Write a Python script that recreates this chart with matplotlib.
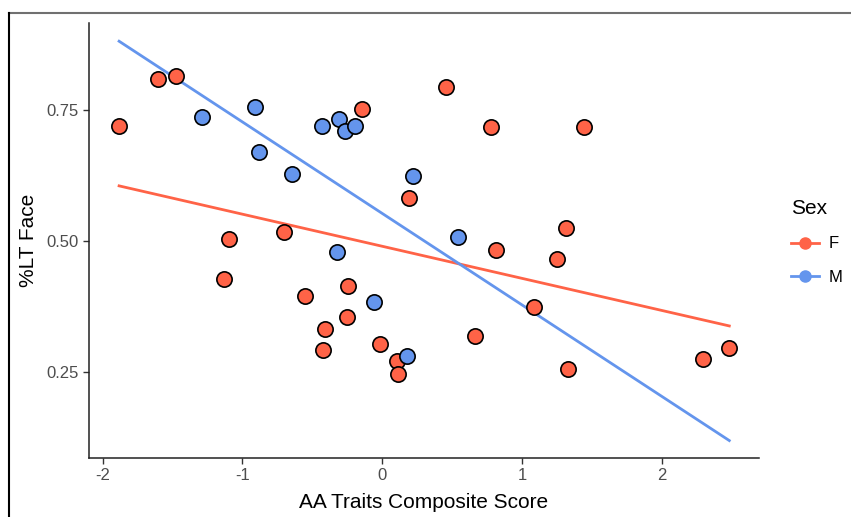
import matplotlib.pyplot as plt
import matplotlib.lines as mlines
import numpy as np

plt.rcParams['font.family'] = ['Liberation Sans', 'DejaVu Sans']
plt.rcParams['axes.unicode_minus'] = False

# female points
xf = [-1.882, -1.601, -1.477, -1.094, -1.129, -0.700, -0.550, -0.147, -0.247, -0.254,
      -0.407, -0.422, -0.016, 0.193, 0.103, 0.112, 0.453, 0.775, 0.813, 0.665,
      1.082, 1.247, 1.313, 1.327, 1.444, 2.290, 2.480]
yf = [0.720, 0.809, 0.814, 0.503, 0.427, 0.516, 0.395, 0.752, 0.414, 0.355,
      0.332, 0.291, 0.302, 0.581, 0.270, 0.246, 0.793, 0.718, 0.483, 0.318,
      0.374, 0.465, 0.525, 0.256, 0.718, 0.275, 0.296]
# male points
xm = [-1.291, -0.910, -0.879, -0.645, -0.429, -0.307, -0.267, -0.195, 0.222, 0.543,
      -0.326, -0.057, 0.174]
ym = [0.736, 0.755, 0.669, 0.627, 0.720, 0.732, 0.709, 0.720, 0.624, 0.508,
      0.478, 0.383, 0.280]

col_f = 'tomato'
col_m = 'cornflowerblue'

fig = plt.figure(figsize=(8.51, 5.17), dpi=100)
ax = fig.add_axes([0.1046, 0.1141, 0.7874, 0.8414])

# regression lines over full x range
xall = np.array(xf + xm)
xr = np.array([xall.min(), xall.max()])
for xs, ys, c in [(xf, yf, col_f), (xm, ym, col_m)]:
    b, a = np.polyfit(xs, ys, 1)
    ax.plot(xr, a + b * xr, color=c, lw=2, zorder=2)

ax.plot(xf, yf, 'o', ms=11, mfc=col_f, mec='black', mew=1.2, ls='none', zorder=3)
ax.plot(xm, ym, 'o', ms=11, mfc=col_m, mec='black', mew=1.2, ls='none', zorder=3)

ax.set_xlim(-2.097, 2.693)
ax.set_ylim(0.0851, 0.916)
ax.set_xticks([-2, -1, 0, 1, 2])
ax.set_yticks([0.25, 0.50, 0.75])
ax.set_yticklabels(['0.25', '0.50', '0.75'])
for s in ['top', 'right']:
    ax.spines[s].set_visible(False)
for s in ['left', 'bottom']:
    ax.spines[s].set_color('#222222')
    ax.spines[s].set_linewidth(1.1)
ax.tick_params(length=4, width=1, color='#333333', labelcolor='#4D4D4D', labelsize=12)
ax.set_xlabel('AA Traits Composite Score', fontsize=15, color='black', labelpad=7)
ax.set_ylabel('%LT Face', fontsize=15, color='black', labelpad=6)

hf = mlines.Line2D([], [], color=col_f, lw=2, marker='o', ms=8, mec=col_f)
hm = mlines.Line2D([], [], color=col_m, lw=2, marker='o', ms=8, mec=col_m)
leg = fig.legend([hf, hm], ['F', 'M'], title='Sex', loc='upper left',
                 bbox_to_anchor=(0.929, 0.615), frameon=False, fontsize=12,
                 title_fontsize=15, handlelength=1.7, labelspacing=1.1,
                 handletextpad=0.6, borderpad=0, borderaxespad=0)
leg._legend_box.align = 'left'

# screenshot frame
fig.add_artist(mlines.Line2D([9 / 851, 1], [1 - 13 / 517, 1 - 13 / 517], color='#707070', lw=1.5))
fig.add_artist(mlines.Line2D([9 / 851, 9 / 851], [0, 1 - 13 / 517], color='black', lw=1.5))

fig.savefig('out.png', dpi=100)
